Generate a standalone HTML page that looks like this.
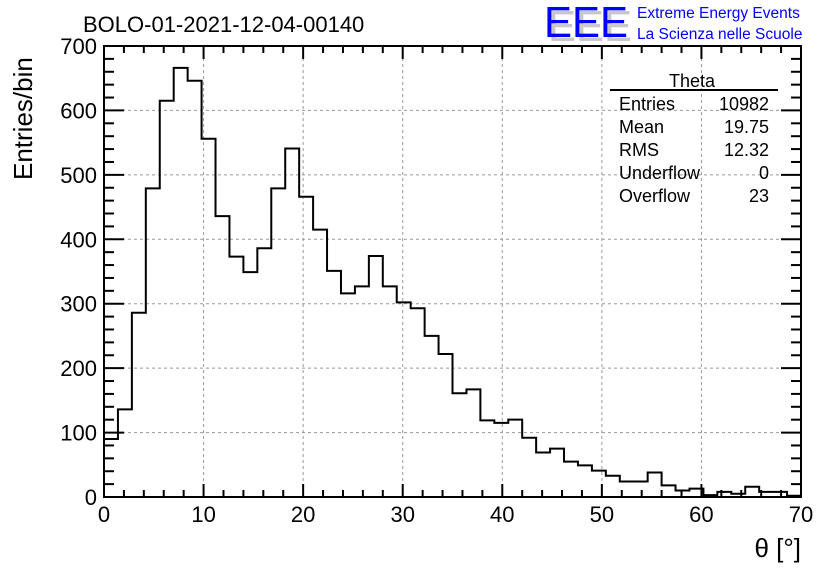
<!DOCTYPE html>
<html><head><meta charset="utf-8"><style>
body{margin:0;background:#fff;}
svg{display:block;font-family:"Liberation Sans",sans-serif;}
</style></head><body>
<svg id="chart" width="836" height="572">
<rect width="836" height="572" fill="#fff"/>
<g id="grid"></g>
<g id="ticks"></g>
<path id="hist" fill="none" stroke="#000" stroke-width="2"/>
<rect x="104" y="46" width="697" height="451" fill="none" stroke="#000" stroke-width="2"/>
<g id="labels" font-size="22"></g>
<text x="83" y="32" font-size="22">BOLO-01-2021-12-04-00140</text>
<text transform="translate(32,180) rotate(-90)" font-size="26">Entries/bin</text>
<text x="801" y="557" font-size="26" text-anchor="end">θ [°]</text>
<g>
<text x="548" y="41" font-size="44" fill="#c8c8c8" textLength="84" lengthAdjust="spacingAndGlyphs">EEE</text>
<text x="544" y="37" font-size="44" fill="#0000ff" textLength="84" lengthAdjust="spacingAndGlyphs">EEE</text>
<text x="637" y="18" font-size="15.5" fill="#0000ff">Extreme Energy Events</text>
<text x="637" y="39" font-size="15.5" fill="#0000ff">La Scienza nelle Scuole</text>
</g>
<g font-size="18">
<text x="692" y="87" text-anchor="middle">Theta</text>
<line x1="610" y1="90" x2="778" y2="90" stroke="#000" stroke-width="2"/>
<text x="619" y="110">Entries</text><text x="769" y="110" text-anchor="end">10982</text>
<text x="619" y="133">Mean</text><text x="769" y="133" text-anchor="end">19.75</text>
<text x="619" y="156">RMS</text><text x="769" y="156" text-anchor="end">12.32</text>
<text x="619" y="179">Underflow</text><text x="769" y="179" text-anchor="end">0</text>
<text x="619" y="202">Overflow</text><text x="769" y="202" text-anchor="end">23</text>
</g>
</svg>
<script>
const binCounts = [90,136,286,479,615,666,646,556,436,373,349,386,479,541,466,415,351,316,327,374,327,302,293,250,222,161,167,119,115,120,92,69,75,55,49,41,33,24,24,38,18,10,13,3,8,5,16,8,8,2];
const xTickLabels = [0,10,20,30,40,50,60,70];
const yTickLabels = [0,100,200,300,400,500,600,700];
const xMin=0,xMax=70,yMin=0,yMax=700;
const L=104,R=801,T=46,B=497;
const NS="http://www.w3.org/2000/svg";
function X(v){return L+(v-xMin)/(xMax-xMin)*(R-L);}
function Y(v){return B-(v-yMin)/(yMax-yMin)*(B-T);}
const bw=(xMax-xMin)/binCounts.length;
let d="M"+X(0)+","+Y(0);
binCounts.forEach((c,i)=>{d+=" L"+X(i*bw)+","+Y(c)+" L"+X((i+1)*bw)+","+Y(c);});
d+=" L"+X(xMax)+","+Y(0);
document.getElementById('hist').setAttribute('d',d);
const grid=document.getElementById('grid'),ticks=document.getElementById('ticks'),labels=document.getElementById('labels');
function line(g,x1,y1,x2,y2,attrs){const l=document.createElementNS(NS,'line');l.setAttribute('x1',x1);l.setAttribute('y1',y1);l.setAttribute('x2',x2);l.setAttribute('y2',y2);for(const k in attrs)l.setAttribute(k,attrs[k]);g.appendChild(l);return l;}
const gs={stroke:'#999','stroke-width':1,'stroke-dasharray':'3,3'};
const ts={stroke:'#000','stroke-width':2};
xTickLabels.forEach(v=>{
  const x=X(v);
  if(v>xMin&&v<xMax){const g=line(grid,x,T,x,B,gs);
  
  }
  const t=document.createElementNS(NS,'text');t.setAttribute('x',x);t.setAttribute('y',522);t.setAttribute('text-anchor','middle');t.textContent=v;
  
  
  labels.appendChild(t);
});
yTickLabels.forEach(v=>{
  const y=Y(v);
  if(v>yMin&&v<yMax){const g=line(grid,L,y,R,y,gs);
  
  }
  const t=document.createElementNS(NS,'text');t.setAttribute('x',97);t.setAttribute('y',y+8);t.setAttribute('text-anchor','end');t.textContent=v;
  
  
  labels.appendChild(t);
});
for(let v=xMin;v<=xMax;v+=2){const x=X(v);const len=(v%10===0)?13:7;
  line(ticks,x,B,x,B-len,ts);line(ticks,x,T,x,T+len,ts);}
for(let v=yMin;v<=yMax;v+=20){const y=Y(v);const len=(v%100===0)?20:10;
  line(ticks,L,y,L+len,y,ts);line(ticks,R,y,R-len,y,ts);}
</script>
</body></html>
